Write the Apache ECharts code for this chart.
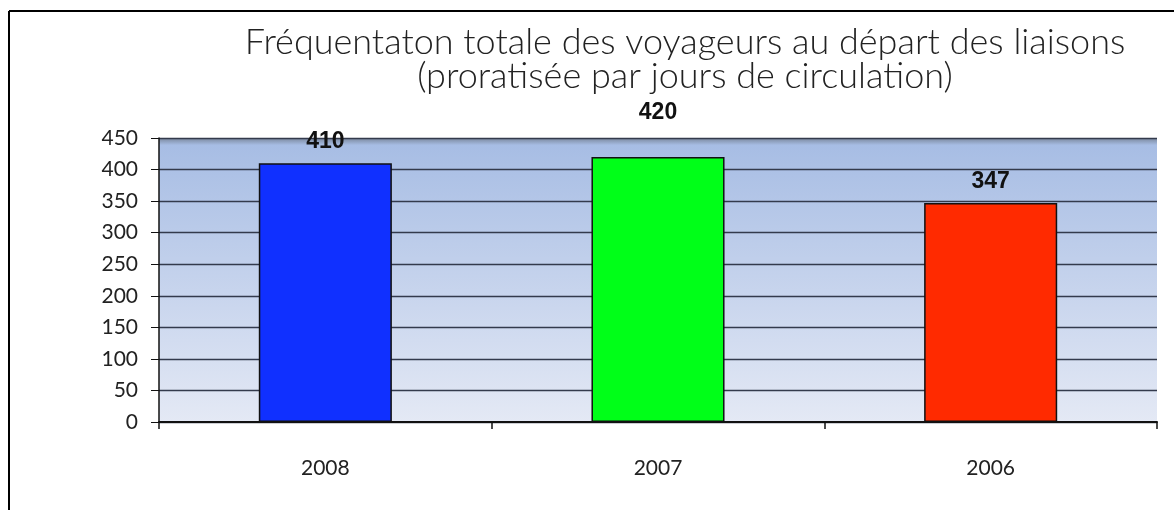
<!DOCTYPE html>
<html><head><meta charset="utf-8">
<script src="https://cdn.jsdelivr.net/npm/echarts@6/dist/echarts.min.js"></script>
<style>html,body{margin:0;padding:0;background:#fff}#c{width:1174px;height:510px}</style>
</head><body><div id="c"></div>
<script>
const titleLines = ["Fréquentaton totale des voyageurs au départ des liaisons", "(proratisée par jours de circulation)"];
const categories = ["2008", "2007", "2006"];
const values = [410, 420, 347];
const barColors = ["#1030ff", "#00ff18", "#ff2a00"];
const yTicks = [0, 50, 100, 150, 200, 250, 300, 350, 400, 450];

const chart = echarts.init(document.getElementById('c'), null, {renderer: 'canvas'});
chart.setOption({
  animation: false,
  backgroundColor: '#fff',
  title: {
    text: titleLines.join('\n'),
    left: 680, textAlign: 'center', top: 20,
    textStyle: {fontFamily: 'Lato', fontWeight: 300, fontSize: 36, color: '#222', lineHeight: 34}
  },
  graphic: [
    {type: 'line', shape: {x1: 9, y1: 11, x2: 9, y2: 510}, style: {stroke: '#000', lineWidth: 2}},
    {type: 'line', shape: {x1: 9, y1: 11, x2: 1174, y2: 11}, style: {stroke: '#000', lineWidth: 2}}
  ],
  grid: {
    left: 159, right: 17, top: 138, bottom: 88, show: true, borderWidth: 0,
    backgroundColor: {type: 'linear', x: 0, y: 0, x2: 0, y2: 1, colorStops: [
      {offset: 0, color: '#7a879c'}, {offset: 0.025, color: '#a7bde4'}, {offset: 1, color: '#e4e9f5'}
    ]}
  },
  xAxis: {
    type: 'category', data: categories,
    axisLine: {lineStyle: {color: '#111', width: 2}},
    axisTick: {show: true, length: 7, lineStyle: {color: '#111', width: 1.5}},
    axisLabel: {fontFamily: 'Lato', fontSize: 21, color: '#222', margin: 36}
  },
  yAxis: {
    type: 'value', min: 0, max: 450, interval: 50,
    axisLine: {show: true, lineStyle: {color: '#111', width: 1.5}},
    axisTick: {show: true, length: 8, lineStyle: {color: '#111'}},
    axisLabel: {fontFamily: 'Lato', fontSize: 21, color: '#222', margin: 21,
      formatter: v => yTicks.includes(v) ? String(v) : ''},
    splitLine: {lineStyle: {color: '#333a4c', width: 1.3}}
  },
  series: [{
    type: 'bar', barWidth: '40%',
    data: values.map((v, i) => ({
      value: v,
      itemStyle: {color: barColors[i], borderColor: '#111', borderWidth: 1.5},
      label: {distance: i === 1 ? 33 : 10}
    })),
    label: {show: true, position: 'top', fontFamily: 'Liberation Sans', fontWeight: 'bold', fontSize: 23, color: '#111'}
  }]
});
</script></body></html>
